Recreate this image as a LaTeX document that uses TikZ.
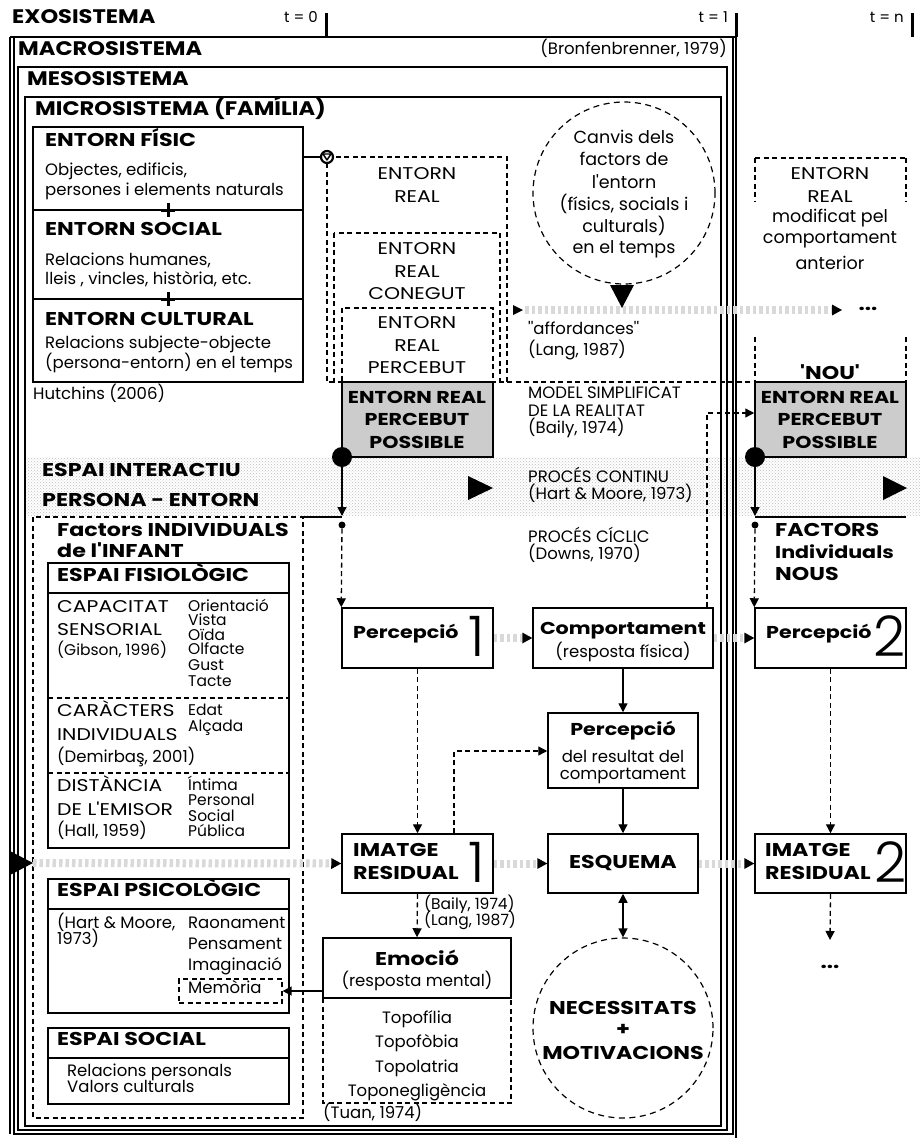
\documentclass[tikz,border=0pt]{standalone}
\usepackage{fontspec}
\setmainfont{Poppins}
\newfontfamily\rgf{Poppins}
\newfontfamily\rcf{Poppins}[FakeStretch=1.2]
\newfontfamily\bdf{Poppins}[FakeStretch=1.2]
\newfontfamily\hdf{Poppins}[FakeStretch=1.15]
\IfFontExistsTF{Poppins Light}{\newfontfamily\numf{Poppins Light}}{%
  \IfFontExistsTF{Fira Sans Light}{\newfontfamily\numf{Fira Sans Light}}{\newfontfamily\numf{Poppins}}}
\usetikzlibrary{arrows.meta,patterns}
\newcommand\fR{\rgf\fontsize{16.5}{16.5}\selectfont}
\newcommand\fRl{\rgf\fontsize{17.5}{17.5}\selectfont}
\newcommand\fRC{\rcf\fontsize{17}{17}\selectfont}
\newcommand\fL{\rgf\fontsize{15.5}{15.5}\selectfont}
\newcommand\fB{\bdf\bfseries\fontsize{18.5}{18.5}\selectfont}
\newcommand\fBm{\bdf\bfseries\fontsize{17.2}{17.2}\selectfont}
\newcommand\fH{\hdf\bfseries\fontsize{19.6}{19.6}\selectfont}
\newcommand\fS{\rgf\fontsize{15}{15}\selectfont}
\newcommand\fN{\numf\fontsize{56}{56}\selectfont}
% box node given by its corners: style, x1, y1, x2, y2, name
\newcommand\bx[6]{\node[#1,minimum width={(#4)-(#2)},minimum height={(#5)-(#3)}] (#6) at ({((#2)+(#4))/2},{((#3)+(#5))/2}) {};}
\begin{document}
\begin{tikzpicture}[x=1pt,y=-1pt,
  tR/.style={inner sep=0pt,font=\fR},
  tRl/.style={inner sep=0pt,font=\fRl},
  tRC/.style={inner sep=0pt,font=\fRC},
  tL/.style={inner sep=0pt,font=\fL},
  tB/.style={inner sep=0pt,font=\fB},
  tBm/.style={inner sep=0pt,font=\fBm},
  tH/.style={inner sep=0pt,font=\fH},
  tS/.style={inner sep=0pt,font=\fS},
  tN/.style={inner sep=0pt,font=\fN},
  frame/.style={draw,line width=1.2pt},
  box/.style={draw,line width=1.5pt,inner sep=0pt},
  dbox/.style={draw,line width=1.2pt,dash pattern=on 5pt off 3.5pt,inner sep=0pt},
  arr/.style={line width=1.3pt,-{Triangle[length=9pt,width=9pt]}},
  darr/.style={arr,dash pattern=on 5pt off 3.5pt},
  garr/.style={line width=8pt,draw=gray!30,dash pattern=on 3.5pt off 3pt,
    -{Triangle[length=10pt,width=11pt,line width=0pt,color=black]}},
  dot/.style={circle,fill,inner sep=0pt},
]
\useasboundingbox (0,0) rectangle (920,1138);
\fill[white] (0,0) rectangle (920,1138);

% interactive band
\fill[pattern=crosshatch dots,pattern color=gray!50] (25,457) rectangle (920,515);

% nested system frames
\draw[frame] (10,37) -- (10,1134);
\draw[frame] (10,37) -- (736,37);
\draw[frame] (14,37) rectangle (733,1134);
\draw[frame] (18,67) rectangle (727,1130);
\draw[frame] (25,97) rectangle (721,1126);
\draw[line width=1.2pt] (736,37) -- (736,1138);
\draw[line width=3pt] (326,13) -- (326,37);
\draw[line width=3pt] (736,13) -- (736,37);
\draw[line width=3pt] (912,13) -- (912,37);

\node[tH,anchor=mid west] (exo) at (12,21) {EXOSISTEMA};
\node[tS,anchor=mid east] (t0) at (318,20) {t = 0};
\node[tS,anchor=mid east] (t1) at (728,20) {t = 1};
\node[tS,anchor=mid east] (tn) at (904,20) {t = n};
\node[tH,anchor=mid west] (macro) at (18,53) {MACROSISTEMA};
\node[tR,anchor=mid east] (bron) at (727,52) {(Bronfenbrenner, 1979)};
\node[tH,anchor=mid west] (meso) at (27,83) {MESOSISTEMA};
\node[tH,anchor=mid west] (micro) at (35,113) {MICROSISTEMA (FAMÍLIA)};

% environment box
\bx{box}{33}{127}{303}{382}{eb}
\draw[line width=2.5pt] (303,127) -- (303,382);
\draw[line width=1.5pt] (33,210) -- (303,210) (33,299) -- (303,299);
\draw[line width=3pt] (161,210) -- (175,210) (168,203) -- (168,217);
\draw[line width=3pt] (161,299) -- (175,299) (168,292) -- (168,306);
\node[tB,anchor=mid west] (ef) at (45,144) {ENTORN FÍSIC};
\node[tR,anchor=mid west] (ef1) at (45,173) {Objectes, edificis,};
\node[tR,anchor=mid west] (ef2) at (45,193) {persones i elements naturals};
\node[tB,anchor=mid west] (es0) at (45,233) {ENTORN SOCIAL};
\node[tR,anchor=mid west] (es1) at (45,263) {Relacions humanes,};
\node[tR,anchor=mid west] (es2) at (45,282) {lleis , vincles, història, etc.};
\node[tB,anchor=mid west] (ec) at (45,323) {ENTORN CULTURAL};
\node[tR,anchor=mid west] (ec1) at (45,346) {Relacions subjecte-objecte};
\node[tR,anchor=mid west] (ec2) at (45,366) {(persona-entorn) en el temps};
\node[tR,anchor=mid west] (hut) at (33,397) {Hutchins (2006)};

% real environment, nested
\node[circle,draw,line width=2.2pt,minimum size=12pt,inner sep=0pt] (sym) at (327,157) {};
\draw[line width=1.4pt,line join=round] (323,154) -- (331,154) -- (327,160) -- cycle;
\draw[line width=1.5pt] (eb.east |- sym) -- (sym.west);
\draw[dbox] (327,163) -- (327,382) -- (507,382) -- (507,157) -- (333,157);
\draw[dbox] (334,233) rectangle (500,382);
\draw[dbox] (342,308) rectangle (493,382);
\draw[dbox] (507,382) -- (755,382);
\node[tRC] (er1) at (417,174) {ENTORN};
\node[tRC] (er2) at (417,197) {REAL};
\node[tRC] (rc1) at (417,249) {ENTORN};
\node[tRC] (rc2) at (417,272) {REAL};
\node[tRC] (rc3) at (417,294) {CONEGUT};
\node[tRC] (rp1) at (417,323) {ENTORN};
\node[tRC] (rp2) at (417,346) {REAL};
\node[tRC] (rp3) at (417,368) {PERCEBUT};

\bx{box,fill=gray!40}{342}{382}{493}{457}{gb1}
\node[tBm] (gb1a) at (417,397) {ENTORN REAL};
\node[tBm] (gb1b) at (417,419) {PERCEBUT};
\node[tBm] (gb1c) at (417,442) {POSSIBLE};

% changes over time
\node[draw,circle,dash pattern=on 6pt off 4.5pt,line width=1.2pt,minimum size=182pt,inner sep=0pt] (cv) at (624,193) {};
\node[tRl] (cv1) at (624,137) {Canvis dels};
\node[tRl] (cv2) at (624,159) {factors de};
\node[tRl] (cv3) at (624,182) {l'entorn};
\node[tRl] (cv4) at (624,204) {(físics, socials i};
\node[tRl] (cv5) at (624,226) {culturals)};
\node[tRl] (cv6) at (624,249) {en el temps};
\fill (610,285) -- (634,285) -- (622,308) -- cycle;

\coordinate (g1a) at (525,310);
\coordinate (g1b) at (842,310);
\fill (513,305) -- (523,310) -- (513,315) -- cycle;
\draw[garr] (g1a) -- (g1b);
\node[tB] (dots1) at (868,309) {...};
\node[tR,anchor=mid west] (aff) at (528,332) {''affordances''};
\node[tR,anchor=mid west] (lang) at (528,353) {(Lang, 1987)};

\node[tR,anchor=mid west] (ms1) at (528,396) {MODEL SIMPLIFICAT};
\node[tR,anchor=mid west] (ms2) at (528,414) {DE LA REALITAT};
\node[tR,anchor=mid west] (ms3) at (528,431) {(Baily, 1974)};
\node[tR,anchor=mid west] (pc1) at (528,480) {PROCÉS CONTINU};
\node[tR,anchor=mid west] (pc2) at (528,497) {(Hart \& Moore, 1973)};
\node[tR,anchor=mid west] (pk1) at (528,540) {PROCÉS CÍCLIC};
\node[tR,anchor=mid west] (pk2) at (528,557) {(Downs, 1970)};

% modified real environment
\draw[dbox] (755,158) -- (906,158);
\draw[dbox] (755,158) -- (755,202) (906,158) -- (906,202);
\draw[dbox] (755,337) -- (755,382) (906,337) -- (906,382);
\node[tRC] (mr1) at (830,174) {ENTORN};
\node[tRC] (mr2) at (830,197) {REAL};
\node[tRl] (mr3) at (830,218) {modificat pel};
\node[tRl] (mr4) at (830,240) {comportament};
\node[tRl] (mr5) at (830,263) {anterior};
\node[tB] (nou) at (830,372) {'NOU'};
\bx{box,fill=gray!40}{755}{382}{906}{457}{gb2}
\node[tBm] (gb2a) at (830,397) {ENTORN REAL};
\node[tBm] (gb2b) at (830,419) {PERCEBUT};
\node[tBm] (gb2c) at (830,442) {POSSIBLE};

% band
\node[tB,anchor=mid west] (ei1) at (42,474) {ESPAI INTERACTIU};
\node[tB,anchor=mid west] (ei2) at (42,504) {PERSONA - ENTORN};
\fill (468,476) -- (493,488) -- (468,500) -- cycle;
\fill (883,476) -- (907,488) -- (883,500) -- cycle;
\draw[line width=1.5pt] (303,517) -- (342,517);
\draw[line width=1.5pt] (755,517) -- (906,517);

\node[tB,anchor=mid west] (fn1) at (775,534) {FACTORS};
\node[tBm,anchor=mid west] (fn2) at (775,556) {Individuals};
\node[tB,anchor=mid west] (fn3) at (775,578) {NOUS};

% process boxes
\bx{box}{342}{608}{493}{668}{p1}
\bx{box}{533}{608}{713}{668}{cp}
\bx{box}{755}{608}{906}{668}{p2}
\bx{box}{548}{713}{698}{788}{pr}
\bx{box}{548}{834}{698}{893}{es}
\bx{box}{342}{834}{493}{893}{i1}
\bx{box}{755}{834}{906}{893}{i2}
\bx{box}{323}{938}{511}{998}{em}
\draw[dbox] (323,998) -- (323,1103) -- (511,1103) -- (511,998);
\node[draw,circle,dash pattern=on 6pt off 4.5pt,line width=1.2pt,minimum size=180pt,inner sep=0pt] (nec) at (623,1028) {};

\node[tBm,anchor=mid west] (p1a) at (353,636) {Percepció};
\node[tN] (p1n) at (477,636) {1};
\node[tBm] (cpa) at (623,631) {Comportament};
\node[tR] (cpb) at (623,652) {(resposta física)};
\node[tBm,anchor=mid west] (p2a) at (766,636) {Percepció};
\node[tN] (p2n) at (890,636) {2};
\node[tBm] (pra) at (623,731) {Percepció};
\node[tR] (prb) at (623,756) {del resultat del};
\node[tR] (prc) at (623,776) {comportament};
\node[tB] (esa) at (623,863) {ESQUEMA};
\node[tB,anchor=mid west] (i1a) at (353,854) {IMATGE};
\node[tB,anchor=mid west] (i1b) at (353,877) {RESIDUAL};
\node[tN] (i1n) at (477,862) {1};
\node[tB,anchor=mid west] (i2a) at (765,854) {IMATGE};
\node[tB,anchor=mid west] (i2b) at (765,877) {RESIDUAL};
\node[tN] (i2n) at (891,862) {2};
\node[tB] (ema) at (417,958) {Emoció};
\node[tR] (emb) at (417,981) {(resposta mental)};
\node[tR] (tp1) at (417,1019) {Topofília};
\node[tR] (tp2) at (417,1043) {Topofòbia};
\node[tR] (tp3) at (417,1068) {Topolatria};
\node[tR] (tp4) at (417,1092) {Toponegligència};
\node[tR,anchor=mid west] (tuan) at (323,1116) {(Tuan, 1974)};
\node[tL,anchor=mid west] (bl1) at (424,907) {(Baily, 1974)};
\node[tL,anchor=mid west] (bl2) at (424,923) {(Lang, 1987)};
\node[tB] (nc1) at (623,1008) {NECESSITATS};
\node[tB] (nc2) at (623,1030) {+};
\node[tB] (nc3) at (623,1053) {MOTIVACIONS};
\node[tB] (dots2) at (830,967) {...};

% individual factors
\draw[dbox] (33,517) rectangle (303,1118);
\node[tB,anchor=mid west] (fi1) at (57,534) {Factors INDIVIDUALS};
\node[tB,anchor=mid west] (fi2) at (57,555) {de l'INFANT};

\bx{box}{48}{563}{289}{848}{fis}
\draw[line width=1.5pt] (48,593) -- (289,593);
\draw[dbox] (48,698) -- (289,698) (48,773) -- (289,773);
\node[tB,anchor=mid west] (fisa) at (57,579) {ESPAI FISIOLÒGIC};
\node[tRC,anchor=mid west] (cs1) at (57,610) {CAPACITAT};
\node[tRC,anchor=mid west] (cs2) at (57,633) {SENSORIAL};
\node[tL,anchor=mid west] (cs3) at (57,653) {(Gibson, 1996)};
\node[tL,anchor=mid west] (sn1) at (188,609) {Orientació};
\node[tL,anchor=mid west] (sn2) at (188,623) {Vista};
\node[tL,anchor=mid west] (sn3) at (188,638) {Oïda};
\node[tL,anchor=mid west] (sn4) at (188,652) {Olfacte};
\node[tL,anchor=mid west] (sn5) at (188,668) {Gust};
\node[tL,anchor=mid west] (sn6) at (188,684) {Tacte};
\node[tRC,anchor=mid west] (ci1) at (57,714) {CARÀCTERS};
\node[tRC,anchor=mid west] (ci2) at (57,738) {INDIVIDUALS};
\node[tR,anchor=mid west] (ci3) at (57,760) {(Demirbaş, 2001)};
\node[tL,anchor=mid west] (ed1) at (188,713) {Edat};
\node[tL,anchor=mid west] (ed2) at (188,729) {Alçada};
\node[tRC,anchor=mid west] (de1) at (57,789) {DISTÀNCIA};
\node[tRC,anchor=mid west] (de2) at (57,813) {DE L'EMISOR};
\node[tR,anchor=mid west] (de3) at (57,834) {(Hall, 1959)};
\node[tL,anchor=mid west] (ds1) at (188,788) {Íntima};
\node[tL,anchor=mid west] (ds2) at (188,803) {Personal};
\node[tL,anchor=mid west] (ds3) at (188,819) {Social};
\node[tL,anchor=mid west] (ds4) at (188,834) {Pública};

\bx{box}{48}{879}{289}{1013}{psi}
\draw[line width=1.5pt] (48,909) -- (289,909);
\node[tB,anchor=mid west] (psia) at (57,894) {ESPAI PSICOLÒGIC};
\node[tR,anchor=mid west] (hm1) at (57,926) {(Hart \& Moore,};
\node[tR,anchor=mid west] (hm2) at (57,942) {1973)};
\node[tR,anchor=mid west] (ps1) at (188,926) {Raonament};
\node[tR,anchor=mid west] (ps2) at (188,947) {Pensament};
\node[tR,anchor=mid west] (ps3) at (188,968) {Imaginació};
\bx{dbox}{179}{979}{282}{1003}{mem}
\node[tR,anchor=mid west] (ps4) at (188,991) {Memòria};

\bx{box}{48}{1028}{289}{1104}{soc}
\draw[line width=1.5pt] (48,1058) -- (289,1058);
\node[tB,anchor=mid west] (soca) at (57,1043) {ESPAI SOCIAL};
\node[tR,anchor=mid west] (so1) at (67,1074) {Relacions personals};
\node[tR,anchor=mid west] (so2) at (67,1090) {Valors culturals};

% connectors
\node[dot,minimum size=20pt] (c1) at (342,457) {};
\node[dot,minimum size=7pt] (d1) at (342,525) {};
\coordinate (a1) at (342,516);
\draw[arr] (c1) -- (a1);
\draw[darr] (d1) -- (p1.north west);
\node[dot,minimum size=20pt] (c2) at (755,457) {};
\node[dot,minimum size=7pt] (d2) at (755,525) {};
\coordinate (a2) at (755,516);
\draw[arr] (c2) -- (a2);
\draw[darr] (d2) -- (p2.north west);

\draw[garr] (p1) -- (cp);
\draw[garr] (cp) -- (p2);
\coordinate (g4) at (33,863);
\fill (10,851) -- (33,863) -- (10,875) -- cycle;
\draw[garr] (g4) -- (i1.west);
\draw[garr] (i1) -- (es);
\draw[garr] (es) -- (i2);

\coordinate (k1) at (707,413);
\draw[darr] (k1 |- cp.north) -- (k1) -- (k1 -| gb2.west);
\coordinate (k2) at (454,751);
\draw[darr] (k2 |- i1.north) -- (k2) -- (k2 -| pr.west);
\draw[arr] (cp.south) -- (pr.north);
\draw[arr] (pr.south) -- (es.north);
\draw[line width=1.3pt,{Triangle[length=9pt,width=9pt]}-{Triangle[length=9pt,width=9pt]}] (es.south) -- (nec.north);
\draw[darr] (p1.south) -- (i1.north);
\draw[darr] (i1.south) -- (em.north);
\draw[arr] (em.west |- mem.east) -- (mem.east);
\draw[darr] (p2.south) -- (i2.north);
\coordinate (e2) at (830,940);
\draw[darr] (i2.south) -- (e2);
\end{tikzpicture}
\end{document}
